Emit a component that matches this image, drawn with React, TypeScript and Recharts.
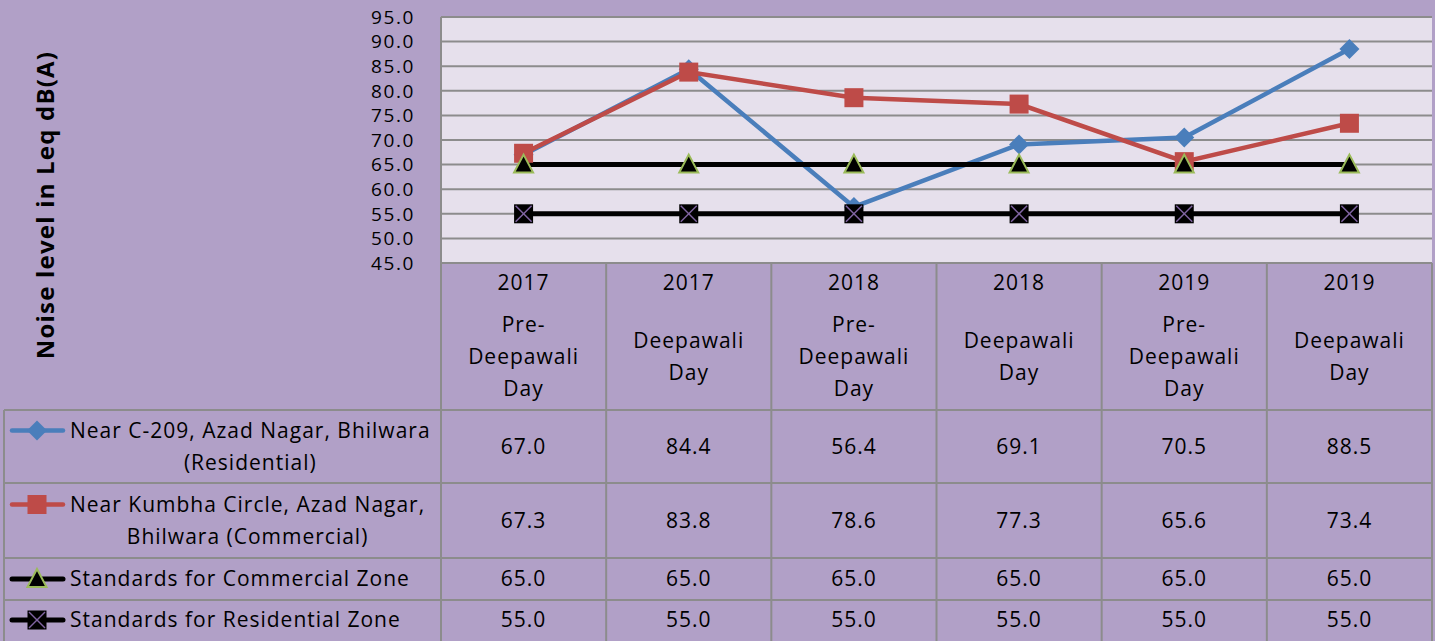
import React from "react";
import { LineChart, Line, XAxis, YAxis, CartesianGrid } from "recharts";

const years = ["2017", "2017", "2018", "2018", "2019", "2019"];
const occasionLines = [
  ["Pre-", "Deepawali", "Day"],
  ["Deepawali", "Day"],
  ["Pre-", "Deepawali", "Day"],
  ["Deepawali", "Day"],
  ["Pre-", "Deepawali", "Day"],
  ["Deepawali", "Day"],
];

const azadNagarResidential = [67.0, 84.4, 56.4, 69.1, 70.5, 88.5];
const kumbhaCircleCommercial = [67.3, 83.8, 78.6, 77.3, 65.6, 73.4];
const commercialStandard = [65.0, 65.0, 65.0, 65.0, 65.0, 65.0];
const residentialStandard = [55.0, 55.0, 55.0, 55.0, 55.0, 55.0];

const yTicks = [45, 50, 55, 60, 65, 70, 75, 80, 85, 90, 95];
const Y_TITLE = "Noise level in Leq dB(A)";

type MarkerKind = "diamond" | "square" | "triangle" | "xbox";

const SERIES: { key: string; values: number[]; name: string[]; color: string; width: number; marker: MarkerKind }[] = [
  { key: "res", values: azadNagarResidential, name: ["Near C-209, Azad Nagar, Bhilwara", "(Residential)"], color: "#4A7EBB", width: 4.5, marker: "diamond" },
  { key: "com", values: kumbhaCircleCommercial, name: ["Near Kumbha Circle, Azad Nagar,", "Bhilwara (Commercial)"], color: "#BE4B48", width: 4.5, marker: "square" },
  { key: "stdCom", values: commercialStandard, name: ["Standards for Commercial Zone"], color: "#000000", width: 5, marker: "triangle" },
  { key: "stdRes", values: residentialStandard, name: ["Standards for Residential Zone"], color: "#000000", width: 5, marker: "xbox" },
];

const data = years.map((y, i) => {
  const row: Record<string, string | number> = { cat: `${y} ${occasionLines[i].join(" ")} ${i}` };
  SERIES.forEach((s) => (row[s.key] = s.values[i]));
  return row;
});

// layout
const W = 1435;
const H = 641;
const MARGIN = { top: 17, right: 3, left: 0, bottom: 0 };
const Y_AXIS_W = 441;
const X_AXIS_H = 378;
const PLOT_W = W - MARGIN.right - Y_AXIS_W;
const PLOT_BOTTOM = H - X_AXIS_H;
const COL_W = PLOT_W / years.length;
const TABLE_LEFT = 4;
const ROW_LINES = [410, 483, 558, 600];
const ROW_CENTERS = [446.5, 520.5, 579, 620];
const LINE_GAP = 32;
const LEGEND_TEXT_X = 70;

const FONT = "'Open Sans', 'Noto Sans', sans-serif";
const BORDER = "#8C8C8C";
const LETTER = 1;
const TXT = { fontFamily: FONT, fontSize: 21, letterSpacing: LETTER, fill: "#000" };

let ctx: CanvasRenderingContext2D | null = null;
function textWidth(t: string) {
  if (!ctx) ctx = document.createElement("canvas").getContext("2d");
  if (!ctx) return t.length * 11;
  ctx.font = `21px ${FONT}`;
  return ctx.measureText(t).width + LETTER * t.length;
}

function Marker({ kind, cx, cy }: { kind: MarkerKind; cx: number; cy: number }) {
  if (kind === "diamond")
    return <polygon points={`${cx},${cy - 10} ${cx + 10},${cy} ${cx},${cy + 10} ${cx - 10},${cy}`} fill="#4A7EBB" />;
  if (kind === "square") return <rect x={cx - 9.5} y={cy - 9.5} width={19} height={19} fill="#BE4B48" />;
  if (kind === "triangle")
    return (
      <polygon
        points={`${cx},${cy - 10} ${cx + 9.5},${cy + 8} ${cx - 9.5},${cy + 8}`}
        fill="#000"
        stroke="#9BBB59"
        strokeWidth={2}
      />
    );
  return (
    <g>
      <rect x={cx - 9.5} y={cy - 9.5} width={19} height={19} fill="#000" />
      <line x1={cx - 8} y1={cy - 8} x2={cx + 8} y2={cy + 8} stroke="#8064A2" strokeWidth={1.5} />
      <line x1={cx - 8} y1={cy + 8} x2={cx + 8} y2={cy - 8} stroke="#8064A2" strokeWidth={1.5} />
    </g>
  );
}

function centeredLines(lines: string[], cx: number, cy: number, keyBase: string) {
  const start = cy - ((lines.length - 1) * LINE_GAP) / 2;
  return lines.map((t, j) => (
    <text key={`${keyBase}-${j}`} x={cx} y={start + j * LINE_GAP} dy="0.35em" textAnchor="middle" {...TXT}>
      {t}
    </text>
  ));
}

function TableColumn(props: any) {
  const { x, index } = props;
  const left = x - COL_W / 2;
  const right = x + COL_W / 2;
  const out: React.ReactNode[] = [];

  // header cell
  out.push(
    <text key="yr" x={x} y={283} dy="0.35em" textAnchor="middle" {...TXT}>
      {years[index]}
    </text>
  );
  out.push(...centeredLines(occasionLines[index], x, 357, "occ"));

  // values
  SERIES.forEach((s, r) => {
    out.push(
      <text key={`v${r}`} x={x} y={ROW_CENTERS[r]} dy="0.35em" textAnchor="middle" {...TXT}>
        {s.values[index].toFixed(1)}
      </text>
    );
  });

  // borders
  out.push(<line key="rb" x1={right} y1={PLOT_BOTTOM} x2={right} y2={H} stroke={BORDER} strokeWidth={2} />);
  ROW_LINES.forEach((ry, r) =>
    out.push(<line key={`h${r}`} x1={left} y1={ry} x2={right} y2={ry} stroke={BORDER} strokeWidth={2} />)
  );

  if (index === 0) {
    out.push(<line key="lb" x1={left} y1={MARGIN.top} x2={left} y2={H} stroke={BORDER} strokeWidth={2} />);
    out.push(<line key="ob" x1={TABLE_LEFT} y1={ROW_LINES[0]} x2={TABLE_LEFT} y2={H} stroke={BORDER} strokeWidth={2} />);
    ROW_LINES.forEach((ry, r) =>
      out.push(<line key={`lh${r}`} x1={TABLE_LEFT} y1={ry} x2={left} y2={ry} stroke={BORDER} strokeWidth={2} />)
    );
    SERIES.forEach((s, r) => {
      const firstY = ROW_CENTERS[r] - ((s.name.length - 1) * LINE_GAP) / 2;
      const blockW = Math.max(...s.name.map(textWidth));
      out.push(
        <g key={`leg${r}`}>
          <line x1={12} y1={firstY} x2={63} y2={firstY} stroke={s.color} strokeWidth={s.width} strokeLinecap="round" />
          <Marker kind={s.marker} cx={37} cy={firstY} />
        </g>
      );
      out.push(...centeredLines(s.name, LEGEND_TEXT_X + blockW / 2, ROW_CENTERS[r], `ln${r}`));
    });
  }

  return <g>{out}</g>;
}

export default function App() {
  return (
    <div style={{ position: "absolute", left: 0, top: 0, width: W, height: H, background: "#B1A0C7" }}>
      <LineChart width={W} height={H} data={data} margin={MARGIN}>
        <CartesianGrid vertical={false} stroke={BORDER} strokeWidth={2} fill="#E6E0EC" fillOpacity={1} />
        <XAxis
          dataKey="cat"
          height={X_AXIS_H}
          padding={{ left: COL_W / 2, right: COL_W / 2 }}
          axisLine={{ stroke: BORDER, strokeWidth: 2 }}
          tickLine={false}
          interval={0}
          tick={<TableColumn />}
        />
        <YAxis
          width={Y_AXIS_W}
          domain={[45, 95]}
          ticks={yTicks}
          interval={0}
          allowDataOverflow
          tickFormatter={(v: number) => v.toFixed(1)}
          axisLine={{ stroke: BORDER, strokeWidth: 2 }}
          tickLine={false}
          tickMargin={20}
          tick={{ ...TXT, fontSize: 19, letterSpacing: 1.6 }}
          label={{
            content: () => (
              <text
                x={44}
                y={205}
                transform="rotate(-90 44 205)"
                textAnchor="middle"
                dominantBaseline="central"
                fontFamily={FONT}
                fontSize={24}
                fontWeight={700}
                letterSpacing={1.2}
                fill="#000"
              >
                {Y_TITLE}
              </text>
            ),
          }}
        />
        {SERIES.map((s) => (
          <Line
            key={s.key}
            dataKey={s.key}
            type="linear"
            stroke={s.color}
            strokeWidth={s.width}
            isAnimationActive={false}
            dot={(p: any) => <Marker key={`${s.key}-${p.index}`} kind={s.marker} cx={p.cx} cy={p.cy} />}
            activeDot={false}
          />
        ))}
      </LineChart>
    </div>
  );
}
